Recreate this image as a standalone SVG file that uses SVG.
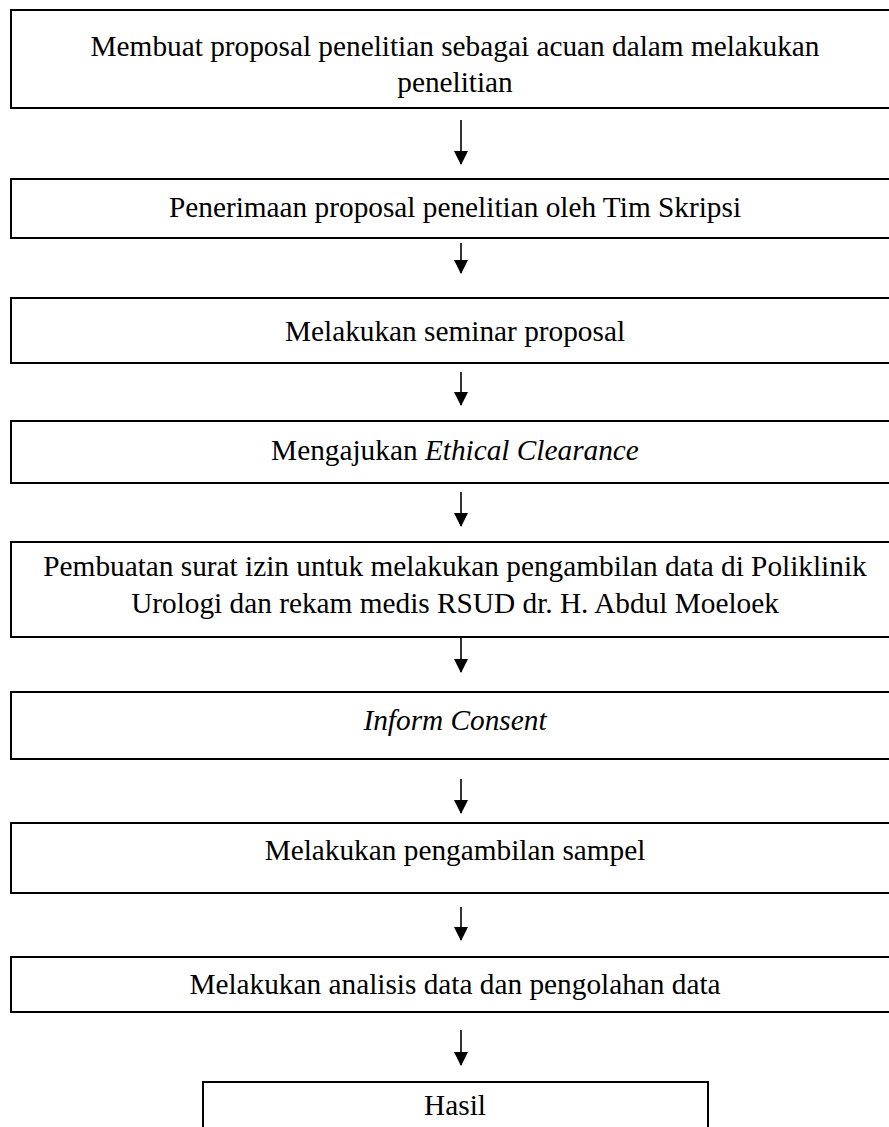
<svg xmlns="http://www.w3.org/2000/svg" width="889" height="1127" viewBox="0 0 889 1127">
<style>
.box{fill:#fff;stroke:#000;stroke-width:2}
.t{font-family:"Liberation Serif","Times New Roman",serif;font-size:29.3px;fill:#000;text-anchor:middle}
.i{font-style:italic}
.c{stroke:#000;stroke-width:1.6;fill:none}
</style>
<defs>
<marker id="ah" markerWidth="14" markerHeight="14" refX="13" refY="7" orient="auto" markerUnits="userSpaceOnUse" viewBox="0 0 14 14">
<path d="M0,0 L14,7 L0,14 Z" fill="#000"/>
</marker>
</defs>
<rect width="889" height="1127" fill="#fff"/>
<g id="n1"><rect class="box" x="11" y="10" width="900" height="98"/>
<text class="t" x="455" y="56">Membuat proposal penelitian sebagai acuan dalam melakukan</text>
<text class="t" x="455" y="92">penelitian</text></g>
<g id="n2"><rect class="box" x="11" y="179" width="900" height="59"/>
<text class="t" x="455" y="217">Penerimaan proposal penelitian oleh Tim Skripsi</text></g>
<g id="n3"><rect class="box" x="11" y="298" width="900" height="65"/>
<text class="t" x="455" y="341">Melakukan seminar proposal</text></g>
<g id="n4"><rect class="box" x="11" y="421" width="900" height="62"/>
<text class="t" x="455" y="460">Mengajukan <tspan class="i">Ethical Clearance</tspan></text></g>
<g id="n5"><rect class="box" x="11" y="542" width="900" height="95"/>
<text class="t" x="455" y="576">Pembuatan surat izin untuk melakukan pengambilan data di Poliklinik</text>
<text class="t" x="455" y="613">Urologi dan rekam medis RSUD dr. H. Abdul Moeloek</text></g>
<g id="n6"><rect class="box" x="11" y="692" width="900" height="67"/>
<text class="t i" x="455" y="730">Inform Consent</text></g>
<g id="n7"><rect class="box" x="11" y="823" width="900" height="70"/>
<text class="t" x="455" y="860">Melakukan pengambilan sampel</text></g>
<g id="n8"><rect class="box" x="11" y="957" width="900" height="55"/>
<text class="t" x="455" y="994">Melakukan analisis data dan pengolahan data</text></g>
<g id="n9"><rect class="box" x="203" y="1082" width="505" height="60"/>
<text class="t" x="455" y="1115">Hasil</text></g>
<g id="connectors">
<line class="c" x1="461" y1="120" x2="461" y2="164" marker-end="url(#ah)"/>
<line class="c" x1="461" y1="243" x2="461" y2="273" marker-end="url(#ah)"/>
<line class="c" x1="461" y1="372" x2="461" y2="405" marker-end="url(#ah)"/>
<line class="c" x1="461" y1="492" x2="461" y2="526" marker-end="url(#ah)"/>
<line class="c" x1="461" y1="637" x2="461" y2="672" marker-end="url(#ah)"/>
<line class="c" x1="461" y1="779" x2="461" y2="813" marker-end="url(#ah)"/>
<line class="c" x1="461" y1="907" x2="461" y2="940" marker-end="url(#ah)"/>
<line class="c" x1="461" y1="1030" x2="461" y2="1065" marker-end="url(#ah)"/>
</g>
</svg>
